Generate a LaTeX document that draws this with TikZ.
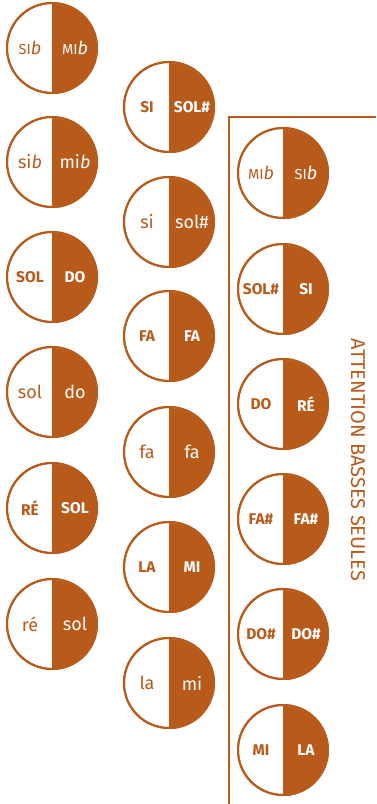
\documentclass[tikz,border=0pt]{standalone}
\usepackage{fontspec}
\setmainfont{Fira Sans}
\usetikzlibrary{calc}
\definecolor{brun}{RGB}{184,90,26}
% bouton: nom, x, y, note gauche, note droite
\newcommand\bouton[5]{%
	\node[rond] (#1) at (#2,#3) {};
	\fill[brun] (#1.south) arc (-90:90:45pt) -- cycle;
	\node[rond] at (#1) {};
	\node[gauche] (#1g) at ($(#1)+(-22,0)$) {#4};
	\node[droite] (#1d) at ($(#1)+(23,0)$) {#5};
}
\newcommand\maj{\fontsize{15.5}{17}\bfseries}
\newcommand\minu{\fontsize{18}{20}\selectfont}
\newcommand\bem[1]{{\fontsize{14.5}{16}\selectfont #1}{\minu\itshape b}}

\begin{document}
\begin{tikzpicture}[x=1pt, y=1pt,
	rond/.style={circle, draw=brun, line width=2pt, minimum size=90pt, inner sep=0pt},
	gauche/.style={text=brun, inner sep=0pt},
	droite/.style={text=white, inner sep=0pt}]
		%%%%% START %%%%%
		\useasboundingbox (0,0) rectangle (376,804);
		
		% colonne gauche
		\bouton{a1}{52}{756}{\bem{SI}}{\bem{MI}}
		\bouton{a2}{52}{642}{\minu si{\itshape b}}{\minu mi{\itshape b}}
		\bouton{a3}{52}{527}{\maj SOL}{\maj DO}
		\bouton{a4}{52}{412}{\minu sol}{\minu do}
		\bouton{a5}{52}{296}{\maj RÉ}{\maj SOL}
		\bouton{a6}{52}{180}{\minu ré}{\minu sol}
		
		% colonne milieu
		\bouton{b1}{169}{697}{\maj SI}{\maj SOL\#}
		\bouton{b2}{169}{582}{\minu si}{\minu sol\#}
		\bouton{b3}{169}{468}{\maj FA}{\maj FA}
		\bouton{b4}{169}{352}{\minu fa}{\minu fa}
		\bouton{b5}{169}{237}{\maj LA}{\maj MI}
		\bouton{b6}{169}{121}{\minu la}{\minu mi}
		
		% basses seules
		\draw[brun, line width=1.5pt] (229,0) -- (229,687) -- (376,687);
		\node[rotate=-90, text=brun] (note) at (358,344) {\fontsize{20}{22}\selectfont ATTENTION BASSES SEULES};
		
		\bouton{c1}{283}{631}{\bem{MI}}{\bem{SI}}
		\bouton{c2}{283}{515}{\maj SOL\#}{\maj SI}
		\bouton{c3}{283}{400}{\maj DO}{\maj RÉ}
		\bouton{c4}{283}{285}{\maj FA\#}{\maj FA\#}
		\bouton{c5}{283}{170}{\maj DO\#}{\maj DO\#}
		\bouton{c6}{283}{54}{\maj MI}{\maj LA}
		
		%%%%% END %%%%%
	\end{tikzpicture}
\end{document}
